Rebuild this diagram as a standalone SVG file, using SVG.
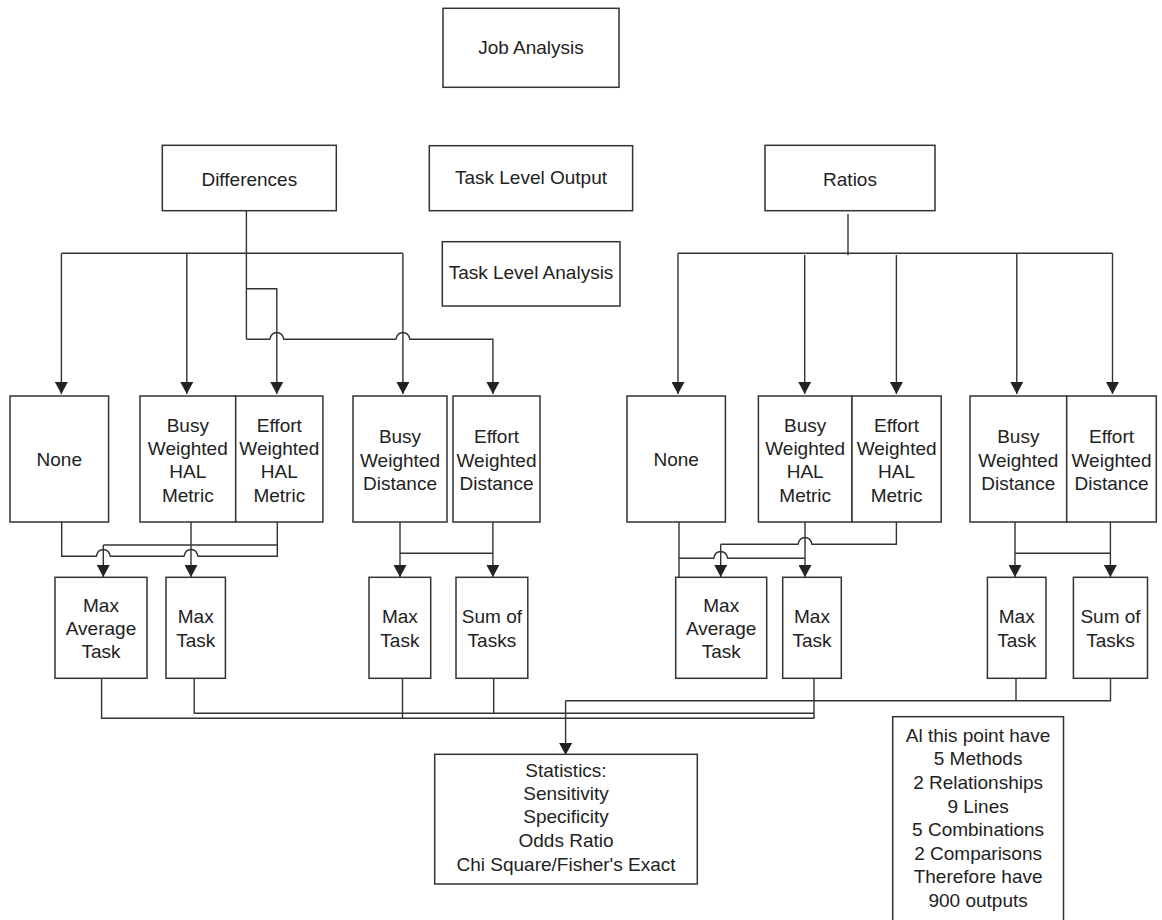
<svg xmlns="http://www.w3.org/2000/svg" width="1162" height="920" viewBox="0 0 1162 920">
<style>
.box{fill:#fff;stroke:#333;stroke-width:1.5}
.t{font-family:"Liberation Sans",Arial,sans-serif;font-size:19px;fill:#222;text-anchor:middle}
.c{fill:none;stroke:#333;stroke-width:1.4}
.a{fill:none;stroke:#333;stroke-width:1.4;marker-end:url(#ah)}
</style>
<defs>
<marker id="ah" viewBox="0 0 12 13" refX="12" refY="6.5" markerWidth="12" markerHeight="13" markerUnits="userSpaceOnUse" orient="auto">
<path d="M0,0 L12,6.5 L0,13 Z" fill="#222"/>
</marker>
</defs>
<rect width="1162" height="920" fill="#fff"/>

<g id="connectors">
<!-- Differences tree -->
<path class="c" d="M246.4,211 V339.3"/>
<path class="c" d="M61.4,253.3 H402.9"/>
<path class="a" d="M61.4,253.3 V394"/>
<path class="a" d="M186.8,253.3 V394"/>
<path class="a" d="M402.9,253.3 V394"/>
<path class="a" d="M246.4,288.7 H276.8 V394"/>
<path class="a" d="M246.4,339.3 H269.8 C271.8,330.3 281.8,330.3 283.8,339.3 H395.9 C397.9,330.3 407.9,330.3 409.9,339.3 H492.9 V394"/>
<!-- Ratios tree -->
<path class="c" d="M848,214 V255"/>
<path class="c" d="M678,253.3 H1112.5"/>
<path class="a" d="M678,253.3 V394"/>
<path class="a" d="M804.7,255 V394"/>
<path class="a" d="M896.4,255 V394"/>
<path class="a" d="M1016.8,253.3 V394"/>
<path class="a" d="M1112.5,253.3 V394"/>
<!-- Left HAL to Max -->
<path class="c" d="M61.7,522 V556.3 H96.3 C98.3,547.3 108.3,547.3 110.3,556.3 H184 C186,547.3 196,547.3 198,556.3 H277.3 V522"/>
<path class="c" d="M277.3,545 H103.3"/>
<path class="a" d="M103.3,545 V577"/>
<path class="a" d="M191,522 V577"/>
<!-- Left distance to Max/Sum -->
<path class="c" d="M400,553.3 H492.9"/>
<path class="a" d="M400,522 V577"/>
<path class="a" d="M492.9,522 V577"/>
<!-- Right HAL to Max -->
<path class="c" d="M679,522 V577"/>
<path class="c" d="M679,558.3 H713.7 C715.7,549.3 725.7,549.3 727.7,558.3 H805"/>
<path class="c" d="M896.4,522 V544.3 H812 C810,535.3 800,535.3 798,544.3 H720.7"/>
<path class="a" d="M720.7,544.3 V577"/>
<path class="a" d="M805,522 V577"/>
<!-- Right distance to Max/Sum -->
<path class="c" d="M1015,553.3 H1110.4"/>
<path class="a" d="M1015,522 V577"/>
<path class="a" d="M1110.4,522 V577"/>
<!-- Bottom collection -->
<path class="c" d="M101.6,678.3 V718.3 H814 V678.3"/>
<path class="c" d="M194.2,678.3 V713.3 H814"/>
<path class="c" d="M402.5,678.3 V718.3"/>
<path class="c" d="M493.7,678.3 V713.3"/>
<path class="c" d="M1016,678.3 V700.7"/>
<path class="c" d="M1110.5,678.3 V700.7 H565.6"/>
<path class="a" d="M565.6,700.7 V755"/>
</g>

<g id="job-analysis"><rect class="box" x="443" y="8.3" width="176" height="79"/><text class="t" x="531" y="53.5">Job Analysis</text></g>
<g id="differences"><rect class="box" x="162.3" y="145.3" width="174" height="65.4"/><text class="t" x="249.3" y="185.7">Differences</text></g>
<g id="task-level-output"><rect class="box" x="429.3" y="145.7" width="203.3" height="65"/><text class="t" x="531" y="184.3">Task Level Output</text></g>
<g id="ratios"><rect class="box" x="765" y="145.3" width="170" height="65.4"/><text class="t" x="850" y="186">Ratios</text></g>
<g id="task-level-analysis"><rect class="box" x="442.3" y="241.7" width="177.7" height="64.3"/><text class="t" x="531" y="279.3">Task Level Analysis</text></g>

<!-- Left methods -->
<g id="l-none"><rect class="box" x="10" y="396" width="98.6" height="126"/><text class="t" x="59.3" y="465.7">None</text></g>
<g id="l-busy-hal"><rect class="box" x="140" y="396" width="95.7" height="126"/><text class="t" x="187.8"><tspan x="187.8" y="431.7">Busy</tspan><tspan x="187.8" y="455">Weighted</tspan><tspan x="187.8" y="478.3">HAL</tspan><tspan x="187.8" y="501.7">Metric</tspan></text></g>
<g id="l-effort-hal"><rect class="box" x="235.7" y="396" width="87.2" height="126"/><text class="t" x="279.3"><tspan x="279.3" y="431.7">Effort</tspan><tspan x="279.3" y="455">Weighted</tspan><tspan x="279.3" y="478.3">HAL</tspan><tspan x="279.3" y="501.7">Metric</tspan></text></g>
<g id="l-busy-dist"><rect class="box" x="353" y="396" width="94" height="126"/><text class="t" x="400"><tspan x="400" y="443.3">Busy</tspan><tspan x="400" y="466.7">Weighted</tspan><tspan x="400" y="490">Distance</tspan></text></g>
<g id="l-effort-dist"><rect class="box" x="453" y="396" width="87" height="126"/><text class="t" x="496.5"><tspan x="496.5" y="443.3">Effort</tspan><tspan x="496.5" y="466.7">Weighted</tspan><tspan x="496.5" y="490">Distance</tspan></text></g>

<!-- Right methods -->
<g id="r-none"><rect class="box" x="627" y="396" width="98.4" height="126"/><text class="t" x="676.2" y="465.7">None</text></g>
<g id="r-busy-hal"><rect class="box" x="758.4" y="396" width="93.6" height="126"/><text class="t" x="805.2"><tspan x="805.2" y="431.7">Busy</tspan><tspan x="805.2" y="455">Weighted</tspan><tspan x="805.2" y="478.3">HAL</tspan><tspan x="805.2" y="501.7">Metric</tspan></text></g>
<g id="r-effort-hal"><rect class="box" x="852" y="396" width="89.2" height="126"/><text class="t" x="896.6"><tspan x="896.6" y="431.7">Effort</tspan><tspan x="896.6" y="455">Weighted</tspan><tspan x="896.6" y="478.3">HAL</tspan><tspan x="896.6" y="501.7">Metric</tspan></text></g>
<g id="r-busy-dist"><rect class="box" x="970" y="396" width="96.7" height="126"/><text class="t" x="1018.3"><tspan x="1018.3" y="443.3">Busy</tspan><tspan x="1018.3" y="466.7">Weighted</tspan><tspan x="1018.3" y="490">Distance</tspan></text></g>
<g id="r-effort-dist"><rect class="box" x="1066.7" y="396" width="89.6" height="126"/><text class="t" x="1111.5"><tspan x="1111.5" y="443.3">Effort</tspan><tspan x="1111.5" y="466.7">Weighted</tspan><tspan x="1111.5" y="490">Distance</tspan></text></g>

<!-- Aggregations -->
<g id="l-max-avg"><rect class="box" x="55" y="577.3" width="92" height="101"/><text class="t" x="101"><tspan x="101" y="611.5">Max</tspan><tspan x="101" y="634.8">Average</tspan><tspan x="101" y="658.1">Task</tspan></text></g>
<g id="l-max-task"><rect class="box" x="166" y="577.3" width="59.4" height="101"/><text class="t" x="195.7"><tspan x="195.7" y="623.2">Max</tspan><tspan x="195.7" y="646.5">Task</tspan></text></g>
<g id="l-max-task2"><rect class="box" x="369" y="577.3" width="61.7" height="101"/><text class="t" x="399.9"><tspan x="399.9" y="623.2">Max</tspan><tspan x="399.9" y="646.5">Task</tspan></text></g>
<g id="l-sum"><rect class="box" x="456" y="577.3" width="71.8" height="101"/><text class="t" x="491.9"><tspan x="491.9" y="623.2">Sum of</tspan><tspan x="491.9" y="646.5">Tasks</tspan></text></g>
<g id="r-max-avg"><rect class="box" x="675.7" y="577.3" width="91" height="101"/><text class="t" x="721.2"><tspan x="721.2" y="611.5">Max</tspan><tspan x="721.2" y="634.8">Average</tspan><tspan x="721.2" y="658.1">Task</tspan></text></g>
<g id="r-max-task"><rect class="box" x="782.7" y="577.3" width="58.6" height="101"/><text class="t" x="812"><tspan x="812" y="623.2">Max</tspan><tspan x="812" y="646.5">Task</tspan></text></g>
<g id="r-max-task2"><rect class="box" x="987.4" y="577.3" width="58.6" height="101"/><text class="t" x="1016.7"><tspan x="1016.7" y="623.2">Max</tspan><tspan x="1016.7" y="646.5">Task</tspan></text></g>
<g id="r-sum"><rect class="box" x="1073.4" y="577.3" width="74.1" height="101"/><text class="t" x="1110.5"><tspan x="1110.5" y="623.2">Sum of</tspan><tspan x="1110.5" y="646.5">Tasks</tspan></text></g>

<g id="statistics"><rect class="box" x="434.7" y="754.3" width="262.6" height="129.7"/><text class="t" x="566"><tspan x="566" y="776.7">Statistics:</tspan><tspan x="566" y="800">Sensitivity</tspan><tspan x="566" y="823.3">Specificity</tspan><tspan x="566" y="847">Odds Ratio</tspan><tspan x="566" y="871">Chi Square/Fisher's Exact</tspan></text></g>

<g id="summary"><rect class="box" x="892.7" y="716.7" width="170.8" height="210"/><text class="t" x="978.1"><tspan x="978.1" y="741.7">Al this point have</tspan><tspan x="978.1" y="765.3">5 Methods</tspan><tspan x="978.1" y="788.9">2 Relationships</tspan><tspan x="978.1" y="812.5">9 Lines</tspan><tspan x="978.1" y="836.1">5 Combinations</tspan><tspan x="978.1" y="859.7">2 Comparisons</tspan><tspan x="978.1" y="883.3">Therefore have</tspan><tspan x="978.1" y="906.9">900 outputs</tspan></text></g>
</svg>
